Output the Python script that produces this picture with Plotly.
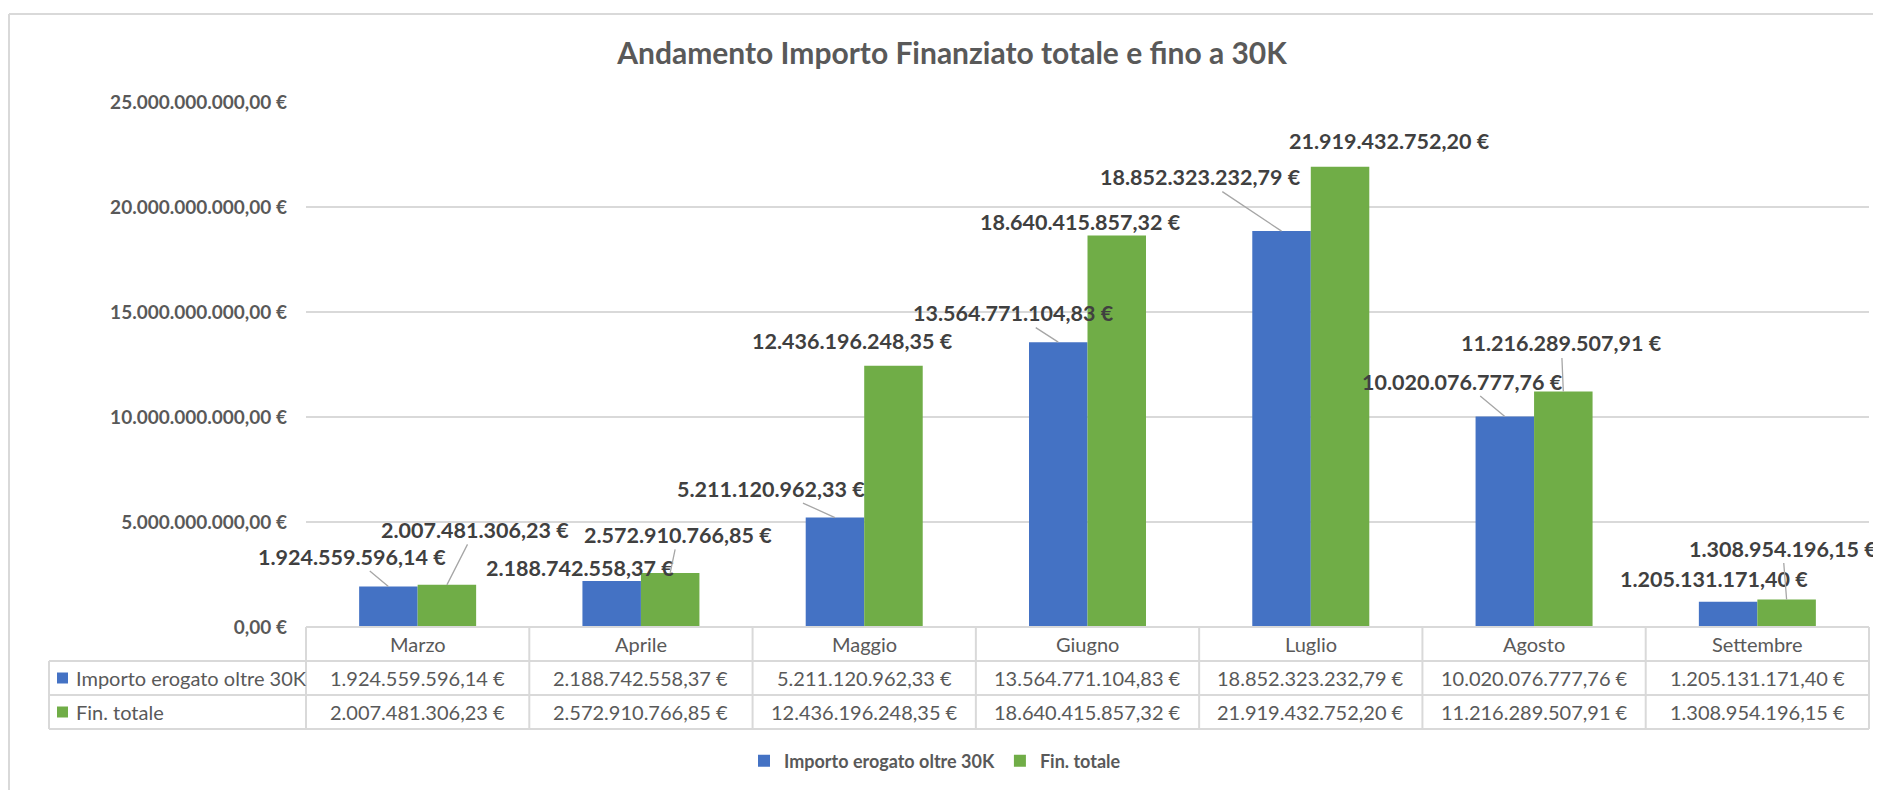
import plotly.graph_objects as go

# ---------------- data ----------------
CATEGORIES = ["Marzo", "Aprile", "Maggio", "Giugno", "Luglio", "Agosto", "Settembre"]
SERIES_NAMES = ["Importo erogato oltre 30K", "Fin. totale"]
IMPORTO_OLTRE_30K = [1924559596.14, 2188742558.37, 5211120962.33, 13564771104.83,
                     18852323232.79, 10020076777.76, 1205131171.40]
FIN_TOTALE = [2007481306.23, 2572910766.85, 12436196248.35, 18640415857.32,
              21919432752.20, 11216289507.91, 1308954196.15]
Y_TICKS = [0, 5e9, 10e9, 15e9, 20e9, 25e9]
TITLE = "Andamento Importo Finanziato totale e fino a 30K"

# ---------------- style / geometry ----------------
# the page body has an 8px margin, so the figure is drawn 8px smaller / offset
OFF = 8
W, H = 1881 - OFF, 790 - OFF
PLOT_L, PLOT_R, PLOT_T, PLOT_B = 306, 1869, 102, 627   # screen pixels
ML, MR, MT, MB = PLOT_L - OFF, W - (PLOT_R - OFF), PLOT_T - OFF, H - (PLOT_B - OFF)
PW, PH = PLOT_R - PLOT_L, PLOT_B - PLOT_T
BLUE, GREEN = "#4472C4", "#70AD47"
TXT, LBL, GRID = "#595959", "#404040", "#d9d9d9"
FONT = "Lato, 'Open Sans', sans-serif"
BARGAP = 0.476

# label offsets (dx, dy in px from the bar top, leader line shown?)
OFF_BLUE = [(-36, -30, True), (-32, -13, False), (-64, -29, True), (-45, -29, True),
            (-81, -54, True), (-42, -35, True), (-14, -23, False)]
OFF_GREEN = [(28, -55, True), (8, -38, True), (-41, -25, False), (-36, -14, False),
             (49, -26, False), (-2, -48, True), (-4, -51, True)]


def eur(v):
    s = f"{v:,.2f}"
    return s.replace(",", "X").replace(".", ",").replace("X", ".") + " €"


def px(xp):
    return (xp - PLOT_L) / PW


def py(yp):
    return (PLOT_B - yp) / PH


catw = PW / len(CATEGORIES)
barw = catw * (1 - BARGAP) / 2
boff = barw / 2

fig = go.Figure()
for name, vals, col in [(SERIES_NAMES[0], IMPORTO_OLTRE_30K, BLUE),
                        (SERIES_NAMES[1], FIN_TOTALE, GREEN)]:
    fig.add_trace(go.Bar(x=CATEGORIES, y=vals, name=name, marker_color=col,
                         marker_line_width=0, hoverinfo="x+y"))

annotations = []
# data labels
for vals, offs, sign in [(IMPORTO_OLTRE_30K, OFF_BLUE, -1), (FIN_TOTALE, OFF_GREEN, 1)]:
    for c, v, (dx, dy, lead) in zip(CATEGORIES, vals, offs):
        common = dict(x=c, y=v, xref="x", yref="y", text=eur(v),
                      font=dict(family=FONT, size=21.5, color=LBL, weight="bold"),
                      xanchor="center", yanchor="middle")
        if lead:
            annotations.append(dict(**common, showarrow=True, arrowhead=0, arrowwidth=1.3,
                                    arrowcolor="#a6a6a6", ax=dx, ay=dy, axref="pixel",
                                    ayref="pixel", xshift=sign * boff, standoff=0))
        else:
            annotations.append(dict(**common, showarrow=False,
                                    xshift=sign * boff + dx, yshift=-dy))

# table texts
row_cat_y = (PLOT_B + 661) / 2
row1_y = (661 + 695) / 2
row2_y = (695 + 729) / 2
cell_font = dict(family=FONT, size=20, color=TXT)
for i, c in enumerate(CATEGORIES):
    for ry, txt in [(row_cat_y, c), (row1_y, eur(IMPORTO_OLTRE_30K[i])),
                    (row2_y, eur(FIN_TOTALE[i]))]:
        annotations.append(dict(x=c, y=py(ry), xref="x", yref="paper", text=txt,
                                showarrow=False, xanchor="center", yanchor="middle",
                                font=cell_font))
for name, ry in zip(SERIES_NAMES, [row1_y, row2_y]):
    annotations.append(dict(x=px(74), y=py(ry), xref="paper", yref="paper", text=name,
                            showarrow=False, xanchor="left", yanchor="middle",
                            font=cell_font))

shapes = []
line = dict(color=GRID, width=2)
# horizontal table lines
shapes.append(dict(type="line", xref="paper", yref="paper", x0=0, x1=1,
                   y0=0, y1=0, line=line))
for yy in [661, 695, 729]:
    shapes.append(dict(type="line", xref="paper", yref="paper", x0=px(49), x1=1,
                       y0=py(yy), y1=py(yy), line=line))
# vertical table lines
shapes.append(dict(type="line", xref="paper", yref="paper", x0=px(49), x1=px(49),
                   y0=py(661), y1=py(729), line=line))
for i in range(len(CATEGORIES) + 1):
    shapes.append(dict(type="line", xref="paper", yref="paper", x0=i / len(CATEGORIES),
                       x1=i / len(CATEGORIES), y0=0, y1=py(729), line=line))
# colour keys in the table
for col, ry in zip([BLUE, GREEN], [row1_y, row2_y]):
    shapes.append(dict(type="rect", xref="paper", yref="paper", x0=px(57), x1=px(68),
                       y0=py(ry + 5.5), y1=py(ry - 5.5), fillcolor=col, line=dict(width=0)))
# chart area border (left and top edges visible)
shapes.append(dict(type="line", xref="paper", yref="paper", x0=px(9), x1=px(9),
                   y0=py(14), y1=py(800), line=line))
shapes.append(dict(type="line", xref="paper", yref="paper", x0=px(9), x1=px(1900),
                   y0=py(14), y1=py(14), line=line))

fig.update_layout(
    width=W, height=H,
    margin=dict(l=ML, r=MR, t=MT, b=MB, autoexpand=False),
    paper_bgcolor="white", plot_bgcolor="white",
    barmode="group", bargap=BARGAP, bargroupgap=0,
    title=dict(text=TITLE, x=(952 - OFF) / W, xref="container", xanchor="center",
               y=1 - (53 - OFF) / H, yref="container", yanchor="middle",
               font=dict(family=FONT, size=30, color=TXT, weight="bold")),
    xaxis=dict(range=[-0.5, len(CATEGORIES) - 0.5], autorange=False,
               showticklabels=False, showgrid=False, zeroline=False, showline=False,
               ticks=""),
    yaxis=dict(range=[0, 25e9], autorange=False, tickvals=Y_TICKS,
               ticktext=[eur(v) for v in Y_TICKS],
               showgrid=True, gridcolor=GRID, gridwidth=2, zeroline=True,
               zerolinecolor=GRID, zerolinewidth=2, showline=False, ticks="",
               ticklabelstandoff=18,
               tickfont=dict(family=FONT, size=19, color=TXT, weight="bold")),
    legend=dict(orientation="h", x=px(935), xanchor="center", y=py(761),
                yanchor="middle", font=dict(family=FONT, size=18, color=TXT, weight="bold"),
                bgcolor="rgba(0,0,0,0)"),
    annotations=annotations,
    shapes=shapes,
    showlegend=True,
)

fig.write_html("out.html")
